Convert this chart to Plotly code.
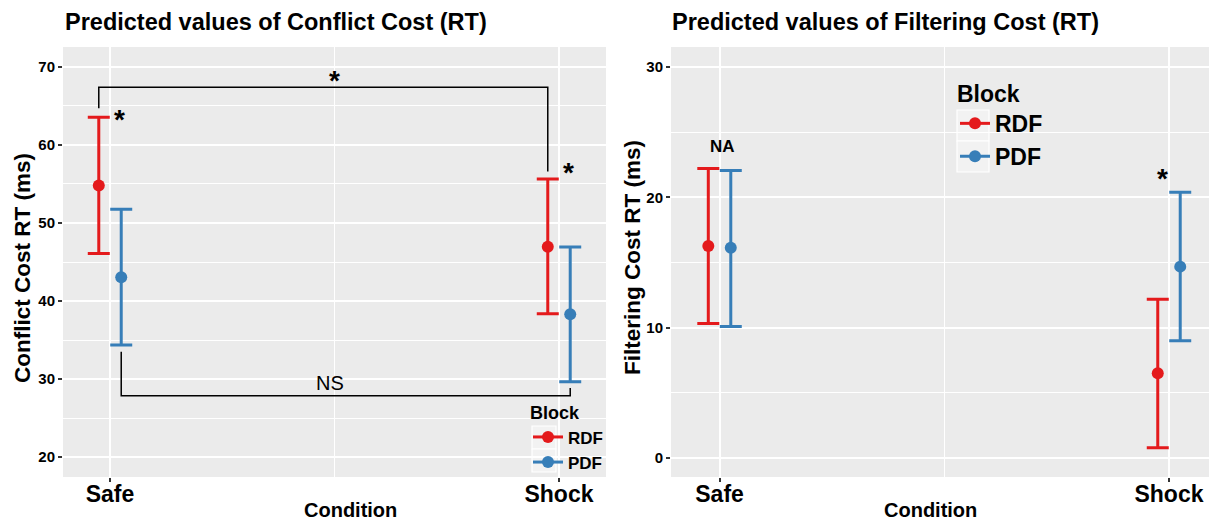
import plotly.graph_objects as go

# ---------------- data ----------------
conditions = ["Safe", "Shock"]
blocks = ["RDF", "PDF"]
block_colors = ["#E41A1C", "#377EB8"]

conflict_rdf_mean = [54.8, 46.96]
conflict_rdf_low = [46.1, 38.37]
conflict_rdf_high = [63.55, 55.64]
conflict_pdf_mean = [43.04, 38.3]
conflict_pdf_low = [34.36, 29.65]
conflict_pdf_high = [51.75, 46.92]

filter_rdf_mean = [16.27, 6.5]
filter_rdf_low = [10.31, 0.79]
filter_rdf_high = [22.2, 12.18]
filter_pdf_mean = [16.12, 14.68]
filter_pdf_low = [10.08, 9.0]
filter_pdf_high = [22.05, 20.39]

conflict_ticks = [20, 30, 40, 50, 60, 70]
filter_ticks = [0, 10, 20, 30]

# bracket levels (Conflict panel)
top_bracket = [64.7, 67.4, 56.6]       # left end, bar, right end (RDF)
bottom_bracket = [33.5, 27.86, 28.85]  # left end, bar, right end (PDF)

# ---------------- styling ----------------
FONT = "Liberation Sans, Arial, sans-serif"
PANEL = "#EBEBEB"
KEYBG = "#F2F2F2"
DODGE = 0.025
xpos = [1, 2]
offsets = [-DODGE, DODGE]
W, H = 1209, 523

fig = go.Figure()


def add_series(xaxis, yaxis, means, lows, highs, name, color, offset, legend, show):
    xs = [xpos[0] + offset, None, xpos[1] + offset]
    ys = [means[0], None, means[1]]
    up = [highs[0] - means[0], 0, highs[1] - means[1]]
    dn = [means[0] - lows[0], 0, means[1] - lows[1]]
    fig.add_trace(go.Scatter(
        x=xs, y=ys, mode="lines+markers", name=f"<b>{name}</b>",
        xaxis=xaxis, yaxis=yaxis, legend=legend, showlegend=show,
        connectgaps=False,
        line=dict(color=color, width=3),
        marker=dict(color=color, size=12),
        error_y=dict(type="data", array=up, arrayminus=dn, color=color,
                     thickness=3, width=11, visible=True),
    ))


add_series("x", "y", conflict_rdf_mean, conflict_rdf_low, conflict_rdf_high,
           blocks[0], block_colors[0], offsets[0], "legend", True)
add_series("x", "y", conflict_pdf_mean, conflict_pdf_low, conflict_pdf_high,
           blocks[1], block_colors[1], offsets[1], "legend", True)
add_series("x2", "y2", filter_rdf_mean, filter_rdf_low, filter_rdf_high,
           blocks[0], block_colors[0], offsets[0], "legend2", True)
add_series("x2", "y2", filter_pdf_mean, filter_pdf_low, filter_pdf_high,
           blocks[1], block_colors[1], offsets[1], "legend2", True)

# brackets
lx, rx = xpos[0] + offsets[0], xpos[1] + offsets[0]
fig.add_shape(type="path", xref="x", yref="y",
              path=f"M {lx},{top_bracket[0]} L {lx},{top_bracket[1]} L {rx},{top_bracket[1]} L {rx},{top_bracket[2]}",
              line=dict(color="black", width=1.5))
lx2, rx2 = xpos[0] + offsets[1], xpos[1] + offsets[1]
fig.add_shape(type="path", xref="x", yref="y",
              path=f"M {lx2},{bottom_bracket[0]} L {lx2},{bottom_bracket[1]} L {rx2},{bottom_bracket[1]} L {rx2},{bottom_bracket[2]}",
              line=dict(color="black", width=1.5))


# legend key boxes (ggplot-style)
def key_box(x0, x1, y0, y1):
    fig.add_shape(type="rect", xref="paper", yref="paper",
                  x0=x0 / W, x1=x1 / W, y0=1 - y1 / H, y1=1 - y0 / H,
                  fillcolor=KEYBG, line=dict(color="white", width=1.2), layer="between")


key_box(532, 556, 426, 449)
key_box(532, 556, 449, 472)
key_box(957, 989, 110, 141)
key_box(957, 989, 141, 172)

axis_common = dict(
    showline=False, zeroline=False, showgrid=True,
    gridcolor="white", gridwidth=2,
    ticks="outside", ticklen=4, tickwidth=1.5, tickcolor="#333333",
    tickfont=dict(family=FONT, color="black"),
)

fig.update_layout(
    width=W, height=H,
    margin=dict(l=0, r=0, t=0, b=0),
    paper_bgcolor="white", plot_bgcolor=PANEL,
    font=dict(family=FONT, color="black"),
    xaxis=dict(**axis_common, domain=[63 / W, 606 / W], range=[0.8953, 2.1047],
               tickvals=xpos, ticktext=[f"<b>{c}</b>" for c in conditions],
               tickfont_size=23, ticklabelstandoff=-8,
               minor=dict(tickvals=[1.5], showgrid=True, gridcolor="white", gridwidth=1, ticks=""),
               anchor="y"),
    yaxis=dict(**axis_common, domain=[1 - 477 / H, 1 - 47 / H], range=[17.44, 72.56],
               tickvals=conflict_ticks, ticktext=[f"<b>{t}</b>" for t in conflict_ticks],
               tickfont_size=15,
               minor=dict(dtick=5, tick0=0, showgrid=True, gridcolor="white", gridwidth=1, ticks=""),
               anchor="x"),
    xaxis2=dict(**axis_common, domain=[671 / W, 1.0], range=[0.892, 2.089],
                tickvals=xpos, ticktext=[f"<b>{c}</b>" for c in conditions],
                tickfont_size=23, ticklabelstandoff=-8,
                minor=dict(tickvals=[1.5], showgrid=True, gridcolor="white", gridwidth=1, ticks=""),
                anchor="y2"),
    yaxis2=dict(**axis_common, domain=[1 - 477 / H, 1 - 47 / H], range=[-1.46, 31.53],
                tickvals=filter_ticks, ticktext=[f"<b>{t}</b>" for t in filter_ticks],
                tickfont_size=15,
                minor=dict(dtick=5, tick0=0, showgrid=True, gridcolor="white", gridwidth=1, ticks=""),
                anchor="x2"),
    legend=dict(
        x=528 / W, y=1 - 396 / H, xanchor="left", yanchor="top",
        bgcolor="rgba(0,0,0,0)",
        title=dict(text="<b>Block</b>", font=dict(size=18, family=FONT)),
        font=dict(size=17, family=FONT), itemwidth=30,
        tracegroupgap=0,
    ),
    legend2=dict(
        x=955 / W, y=1 - 72 / H, xanchor="left", yanchor="top",
        bgcolor="rgba(0,0,0,0)",
        title=dict(text="<b>Block</b>", font=dict(size=23, family=FONT)),
        font=dict(size=23, family=FONT), itemwidth=30,
        tracegroupgap=0,
    ),
)

STAR_SHIFT = -3
annotations = [
    # titles
    dict(text="<b>Predicted values of Conflict Cost (RT)</b>", x=63 / W, y=1 - 22 / H,
         xref="paper", yref="paper", xanchor="left", yanchor="middle", showarrow=False,
         font=dict(size=23.5)),
    dict(text="<b>Predicted values of Filtering Cost (RT)</b>", x=670 / W, y=1 - 22 / H,
         xref="paper", yref="paper", xanchor="left", yanchor="middle", showarrow=False,
         font=dict(size=23.5)),
    # axis titles
    dict(text="<b>Conflict Cost RT (ms)</b>", x=22 / W, y=1 - 268 / H,
         xref="paper", yref="paper", xanchor="center", yanchor="middle", showarrow=False,
         textangle=-90, font=dict(size=22.5)),
    dict(text="<b>Filtering Cost RT (ms)</b>", x=632 / W, y=1 - 258 / H,
         xref="paper", yref="paper", xanchor="center", yanchor="middle", showarrow=False,
         textangle=-90, font=dict(size=22.5)),
    dict(text="<b>Condition</b>", x=350 / W, y=1 - 510 / H,
         xref="paper", yref="paper", xanchor="center", yanchor="middle", showarrow=False,
         font=dict(size=20)),
    dict(text="<b>Condition</b>", x=930 / W, y=1 - 510 / H,
         xref="paper", yref="paper", xanchor="center", yanchor="middle", showarrow=False,
         font=dict(size=20)),
    # significance marks
    dict(text="<b>*</b>", x=1.5, y=68.7, xref="x", yref="y", showarrow=False,
         font=dict(size=28), yshift=STAR_SHIFT),
    dict(text="<b>*</b>", x=1.022, y=63.7, xref="x", yref="y", showarrow=False,
         font=dict(size=28), yshift=STAR_SHIFT),
    dict(text="<b>*</b>", x=2.022, y=56.9, xref="x", yref="y", showarrow=False,
         font=dict(size=28), yshift=STAR_SHIFT),
    dict(text="NS", x=1.49, y=29.5, xref="x", yref="y", showarrow=False,
         font=dict(size=20)),
    dict(text="<b>NA</b>", x=1.007, y=23.9, xref="x2", yref="y2", showarrow=False,
         font=dict(size=17)),
    dict(text="<b>*</b>", x=1.985, y=21.7, xref="x2", yref="y2", showarrow=False,
         font=dict(size=28), yshift=STAR_SHIFT),
]
fig.update_layout(annotations=annotations)

fig.write_html("out.html")
